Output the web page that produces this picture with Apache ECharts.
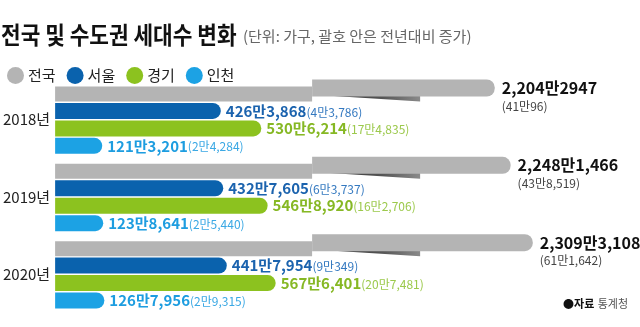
<!DOCTYPE html>
<html>
<head>
<meta charset="utf-8">
<script src="https://cdn.jsdelivr.net/npm/echarts@6/dist/echarts.min.js"></script>
<style>
  html, body { margin: 0; padding: 0; background: #fff; }
  #chart { width: 640px; height: 327px; }
</style>
</head>
<body>
<div id="chart"></div>
<script>
// 가구 수 (단위: 가구)
const years = ['2018년', '2019년', '2020년'];
const nationTotal = [22042947, 22481466, 23093108];
const nationText = ['2,204만2947', '2,248만1,466', '2,309만3,108'];
const nationDelta = [410096, 438519, 611642];
const seoul = [4263868, 4327605, 4417954];
const seoulDelta = [43786, 63737, 90349];
const gyeonggi = [5306214, 5468920, 5676401];
const gyeonggiDelta = [174835, 162706, 207481];
const incheon = [1213201, 1238641, 1267956];
const incheonDelta = [24284, 25440, 29315];

const FONT = '"Noto Sans CJK KR", "Noto Sans", sans-serif';
const BAR_W = 16;
const GAP = 0.09;
const GRAY = '#b4b4b4';

// 12345678 -> "1,234만5,678"
function man(v) {
  const m = Math.floor(v / 10000), r = v % 10000;
  return (m ? m.toLocaleString('en-US') + '만' : '') + (r ? r.toLocaleString('en-US') : '');
}

function regionSeries(name, values, deltas, color, txt, sub) {
  return {
    type: 'bar', name: name, data: values,
    xAxisIndex: 0, yAxisIndex: 0,
    barWidth: BAR_W, barGap: (GAP * 100) + '%',
    itemStyle: { color: color, borderRadius: [0, 8, 8, 0] },
    label: {
      show: true, position: 'right', distance: 5,
      formatter: p => '{v|' + man(p.value) + '}{d|(' + man(deltas[p.dataIndex]) + ')}',
      rich: {
        v: { fontFamily: FONT, fontWeight: 'bold', fontSize: 15, color: txt },
        d: { fontFamily: FONT, fontSize: 12, color: sub, padding: [2, 0, 0, 0] }
      }
    },
    silent: true
  };
}

const chart = echarts.init(document.getElementById('chart'));

chart.setOption({
  animation: false,
  backgroundColor: '#fff',
  grid: { left: 55, right: 2, top: 81, bottom: 14 },
  xAxis: [
    { type: 'value', min: 0, max: 15000000, show: false },
    // 전국 막대는 생략 구간을 두고 별도 축으로 그림
    { type: 'value', min: 9900000, max: 26000000, show: false }
  ],
  yAxis: {
    type: 'category', data: years, inverse: true,
    axisLine: { show: false }, axisTick: { show: false }, splitLine: { show: false },
    axisLabel: {
      margin: 5, fontFamily: FONT, fontSize: 15, color: '#222',
      padding: [0, 0, 19, 0]
    }
  },
  legend: {
    left: 2, top: 62, icon: 'circle', itemWidth: 17, itemHeight: 17, itemGap: 11,
    selectedMode: false,
    data: ['전국', '서울', '경기', '인천'],
    textStyle: { fontFamily: FONT, fontSize: 15, color: '#222', padding: [0, 0, 0, -1] }
  },
  graphic: [
    {
      type: 'text', x: 1, y: 35, scaleX: 0.89,
      style: {
        text: '전국 및 수도권 세대수 변화', fill: '#111',
        fontFamily: FONT, fontWeight: 'bold', fontSize: 24, verticalAlign: 'middle'
      }
    },
    {
      type: 'text', x: 243, y: 36,
      style: {
        text: '(단위: 가구, 괄호 안은 전년대비 증가)', fill: '#666',
        fontFamily: FONT, fontSize: 15, verticalAlign: 'middle'
      }
    },
    {
      type: 'text', right: 12, top: 298,
      style: {
        text: '{a|●자료} {b|통계청}',
        rich: {
          a: { fontFamily: FONT, fontWeight: 'bold', fontSize: 11, fill: '#111' },
          b: { fontFamily: FONT, fontSize: 11, fill: '#555' }
        }
      }
    }
  ],
  series: [
    // 전국 막대 자리 확보용
    {
      type: 'bar', name: 'slot', data: nationTotal, xAxisIndex: 1, yAxisIndex: 0,
      barWidth: BAR_W, barGap: (GAP * 100) + '%',
      itemStyle: { color: 'rgba(0,0,0,0)' }, silent: true
    },
    regionSeries('서울', seoul, seoulDelta, '#0a62ad', '#1b63ae', '#3479c0'),
    regionSeries('경기', gyeonggi, gyeonggiDelta, '#8cc21f', '#86b824', '#9cc94c'),
    regionSeries('인천', incheon, incheonDelta, '#1ca2e4', '#1d9de0', '#3aa8e4'),
    {
      type: 'custom', name: '전국', xAxisIndex: 1, yAxisIndex: 0,
      itemStyle: { color: GRAY },
      data: nationTotal.map((v, i) => [v, i]),
      encode: { x: 0, y: 1 },
      silent: true,
      renderItem: function (params, api) {
        const i = api.value(1);
        const end = api.coord([api.value(0), i]);
        const xEnd = end[0], yc = end[1];
        const x0 = params.coordSys.x;
        const pitch = BAR_W * (1 + GAP);
        const sTop = yc - 1.5 * pitch - BAR_W / 2;
        const sBot = sTop + BAR_W;
        const foldX = x0 + 257;
        const wedgeEnd = x0 + 365;
        const lift = 6;
        const upTop = sTop - lift;
        const upH = BAR_W + 1;
        return {
          type: 'group',
          children: [
            { type: 'rect', shape: { x: x0, y: sTop + 1, width: foldX - x0, height: BAR_W - 1 },
              style: { fill: GRAY } },
            { type: 'polygon',
              shape: { points: [[foldX + 14, upTop + upH - 1], [wedgeEnd, upTop + upH - 1], [wedgeEnd, sBot]] },
              style: { fill: new echarts.graphic.LinearGradient(0, 0, 1, 0, [
                { offset: 0, color: '#333' }, { offset: 0.6, color: '#555' }, { offset: 1, color: '#8a8a8a' }
              ]) } },
            { type: 'rect', shape: { x: foldX, y: upTop, width: xEnd - foldX, height: upH, r: [0, 8, 8, 0] },
              style: { fill: GRAY } },
            { type: 'text', x: xEnd + 7, y: upTop + upH / 2,
              style: { text: nationText[i], fill: '#111', fontFamily: FONT, fontWeight: 'bold',
                       fontSize: 16, verticalAlign: 'middle' } },
            { type: 'text', x: xEnd + 7, y: upTop + upH / 2 + 18,
              style: { text: '(' + man(nationDelta[i]) + ')', fill: '#444', fontFamily: FONT,
                       fontSize: 12, verticalAlign: 'middle' } }
          ]
        };
      }
    }
  ]
});
</script>
</body>
</html>
